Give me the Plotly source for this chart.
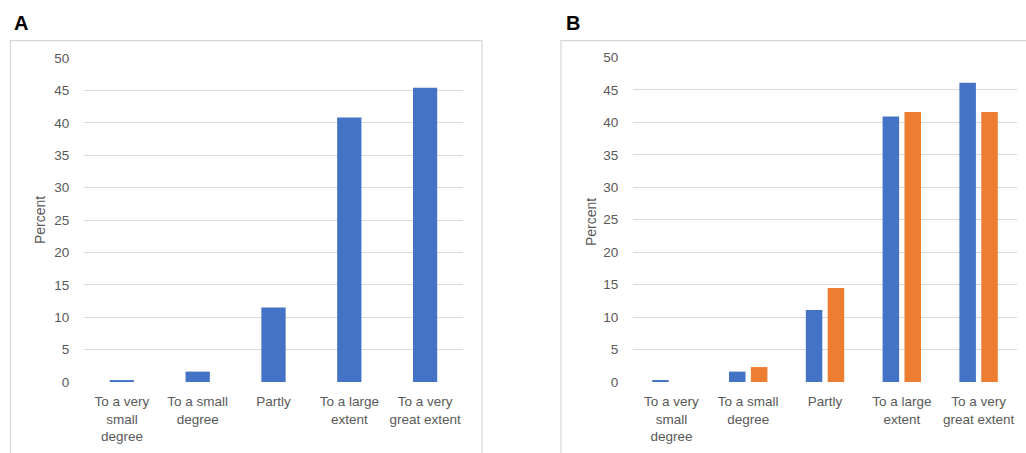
import plotly.graph_objects as go

categories = ["To a very<br>small<br>degree", "To a small<br>degree", "Partly",
              "To a large<br>extent", "To a very<br>great extent"]
panel_a_values = [0.3, 1.6, 11.5, 40.8, 45.4]
panel_b_blue = [0.3, 1.6, 11.1, 40.9, 46.1]
panel_b_orange = [0.0, 2.3, 14.5, 41.6, 41.6]
y_ticks = [0, 5, 10, 15, 20, 25, 30, 35, 40, 45, 50]

W, H = 1026, 453
BLUE = "#4472C4"
ORANGE = "#ED7D31"
GRID = "#d9d9d9"
TXT = "#595959"
FONT = "Liberation Sans, Arial, sans-serif"


def px_x(p):
    return p / W


def px_y(p):
    return 1 - p / H


fig = go.Figure()
fig.add_trace(go.Bar(x=categories, y=panel_a_values, marker_color=BLUE, width=0.32,
                     xaxis="x", yaxis="y", showlegend=False))
fig.add_trace(go.Bar(x=categories, y=panel_b_blue, marker_color=BLUE, width=0.215,
                     offset=-0.25, xaxis="x2", yaxis="y2", showlegend=False))
fig.add_trace(go.Bar(x=categories, y=panel_b_orange, marker_color=ORANGE, width=0.215,
                     offset=0.035, xaxis="x2", yaxis="y2", showlegend=False))

xcommon = dict(type="category", showgrid=False, zeroline=False, showline=False,
               ticks="outside", ticklen=7, tickcolor="rgba(0,0,0,0)", automargin=False,
               tickfont=dict(size=13.5, color=TXT, family=FONT), fixedrange=True)
ycommon = dict(range=[0, 50], tickvals=y_ticks, showgrid=True, gridcolor=GRID, gridwidth=1,
               zeroline=False, showline=False, ticks="outside", ticklen=11, automargin=False,
               tickcolor="rgba(0,0,0,0)", tickfont=dict(size=13.5, color=TXT, family=FONT))

fig.update_layout(
    template="none",
    width=W, height=H,
    autosize=False,
    margin=dict(l=0, r=0, t=0, b=0, pad=0),
    paper_bgcolor="white", plot_bgcolor="white",
    barmode="overlay",
    xaxis=dict(domain=[px_x(84), px_x(463)], anchor="y", **xcommon),
    yaxis=dict(domain=[px_y(382), px_y(58)], anchor="x", **ycommon),
    xaxis2=dict(domain=[px_x(633), px_x(1017)], anchor="y2", **xcommon),
    yaxis2=dict(domain=[px_y(382), px_y(57.5)], anchor="x2", **ycommon),
    font=dict(family=FONT, color=TXT),
    shapes=[
        dict(type="rect", xref="paper", yref="paper", x0=px_x(10.5), x1=px_x(482),
             y0=-0.1, y1=px_y(40.7), line=dict(color=GRID, width=1.3)),
        dict(type="rect", xref="paper", yref="paper", x0=px_x(561), x1=1.05,
             y0=-0.1, y1=px_y(40.7), line=dict(color=GRID, width=1.3)),
    ],
    annotations=[
        dict(text="<b>A</b>", xref="paper", yref="paper", x=px_x(21), y=px_y(23),
             xanchor="center", yanchor="middle",
             showarrow=False, font=dict(size=20, color="black", family=FONT)),
        dict(text="<b>B</b>", xref="paper", yref="paper", x=px_x(572.5), y=px_y(23),
             xanchor="center", yanchor="middle",
             showarrow=False, font=dict(size=20, color="black", family=FONT)),
        dict(text="Percent", xref="paper", yref="paper", x=px_x(40), y=px_y(220),
             xanchor="center", yanchor="middle",
             textangle=-90, showarrow=False, font=dict(size=14, color=TXT, family=FONT)),
        dict(text="Percent", xref="paper", yref="paper", x=px_x(591), y=px_y(222),
             xanchor="center", yanchor="middle",
             textangle=-90, showarrow=False, font=dict(size=14, color=TXT, family=FONT)),
    ],
)

fig.write_html("out.html", config={"displayModeBar": False, "staticPlot": True},
               post_script="document.body.style.margin='0';document.body.style.overflow='hidden';")
